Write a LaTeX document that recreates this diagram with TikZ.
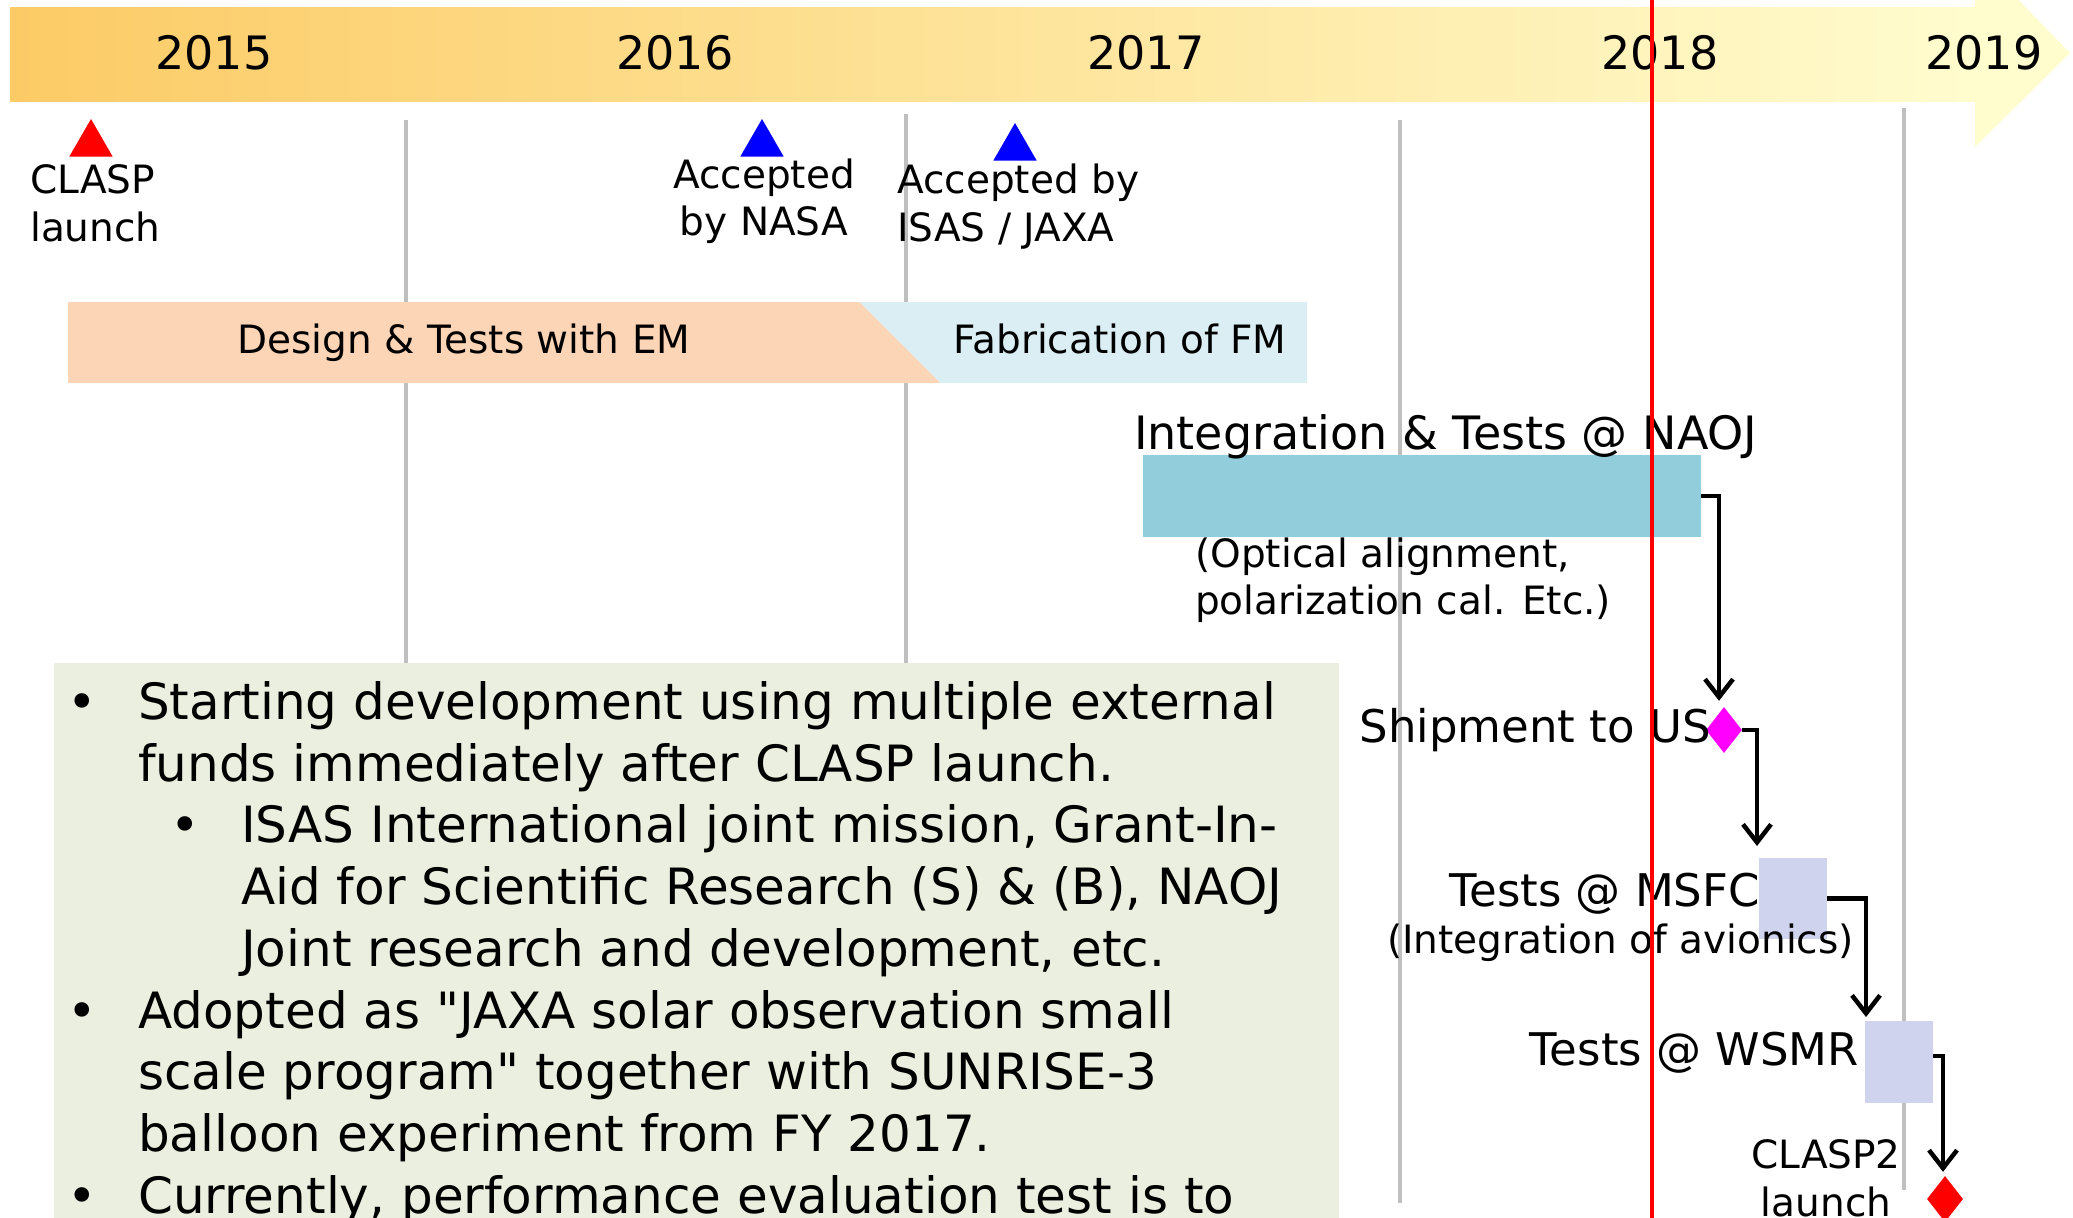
\documentclass[tikz,border=0pt]{standalone}
\usepackage{fontspec}
\setmainfont{DejaVu Sans}
\newfontfamily\qfont{DejaVu Sans}
\usetikzlibrary{shapes.geometric,arrows.meta}
\definecolor{bandL}{RGB}{252,203,102}
\definecolor{bandM}{RGB}{254,237,178}
\definecolor{bandR}{RGB}{255,252,206}
\definecolor{peach}{RGB}{251,213,181}
\definecolor{paleblue}{RGB}{219,238,244}
\definecolor{naojblue}{RGB}{146,205,220}
\definecolor{lav}{RGB}{208,211,238}
\definecolor{sage}{RGB}{235,239,223}
\definecolor{gridgray}{RGB}{191,191,191}
\definecolor{brightmag}{RGB}{255,0,255}
\definecolor{brightred}{RGB}{255,0,0}
\definecolor{brightblue}{RGB}{0,0,255}
\tikzset{
 yearlbl/.style={font=\fontsize{46}{55}\selectfont, anchor=base, inner sep=0},
 lbl/.style={font=\fontsize{39}{47}\selectfont, inner sep=0},
 bigl/.style={font=\fontsize{45}{54}\selectfont, inner sep=0},
 bul/.style={font=\fontsize{50}{60}\selectfont, inner sep=0, anchor=base west},
 bulletdot/.style={font=\fontsize{50}{60}\selectfont, inner sep=0, anchor=base},
 gridline/.style={draw=gridgray, line width=4.5pt},
 conn/.style={draw=black, line width=4.5pt, -{Straight Barb[length=18pt,width=28pt]}},
 tri/.style={regular polygon, regular polygon sides=3, minimum size=50pt, inner sep=0},
 dia/.style={diamond, minimum width=36pt, minimum height=46pt, inner sep=0},
 boxn/.style={anchor=north west, inner sep=0, draw=none}
}
\begin{document}
\begin{tikzpicture}[x=1pt,y=-1pt]
\useasboundingbox (0,0) rectangle (2073,1218);
\clip (0,0) rectangle (2073,1218);
% timeline arrow
\shade[left color=bandL, middle color=bandM, right color=bandR] (10,7) rectangle (1976,101);
\fill[bandR] (1975,-45) -- (2070,53) -- (1975,147) -- cycle;
\node[yearlbl] (y2015) at (214,69) {2015};
\node[yearlbl] (y2016) at (675,69) {2016};
\node[yearlbl] (y2017) at (1146,69) {2017};
\node[yearlbl] (y2018) at (1660,69) {2018};
\node[yearlbl] (y2019) at (1984,69) {2019};
% grid lines
\draw[gridline] (406,120) -- (406,700);
\draw[gridline] (906,114) -- (906,700);
\draw[gridline] (1400,120) -- (1400,1203);
\draw[gridline] (1904,108) -- (1904,1190);
% milestones
\node[tri, fill=brightred] (clasp) at (91,144) {};
\node[tri, fill=brightblue] (nasa) at (762,144) {};
\node[tri, fill=brightblue] (isas) at (1015,148) {};
\node[lbl, anchor=base west] (claspA) at (30,193) {CLASP};
\node[lbl, anchor=base west] (claspB) at (30,241) {launch};
\node[lbl, anchor=base] (nasaA) at (764,188) {Accepted};
\node[lbl, anchor=base] (nasaB) at (764,235) {by NASA};
\node[lbl, anchor=base west] (isasA) at (897,193) {Accepted by};
\node[lbl, anchor=base west] (isasB) at (897,241) {ISAS / JAXA};
% phase bands
\fill[paleblue] (859,302) -- (1307,302) -- (1307,383) -- (940,383) -- cycle;
\fill[peach] (68,302) -- (859,302) -- (940,383) -- (68,383) -- cycle;
\node[lbl, anchor=base] (design) at (464,353) {Design \& Tests with EM};
\node[lbl, anchor=base] (fab) at (1120,353) {Fabrication of FM};
% integration
\node[boxn, fill=naojblue, minimum width=558pt, minimum height=82pt] (naoj) at (1143,455) {};
\node[bigl, anchor=base west, font=\fontsize{46}{55}\selectfont] (naojT) at (1134,449) {Integration \& Tests @ NAOJ};
\node[lbl, anchor=base west] (optA) at (1195,567) {(Optical alignment,};
\node[lbl, anchor=base west] (optB) at (1195,614) {polarization cal. Etc.)};
% shipment
\node[dia, fill=brightmag] (ship) at (1724,730) {};
\node[bigl, anchor=base east] (shipT) at (1711,742) {Shipment to US};
% MSFC
\node[boxn, fill=lav, minimum width=68pt, minimum height=81pt] (msfc) at (1759,858) {};
\node[bigl, anchor=base east] (msfcT) at (1760,906) {Tests @ MSFC};
\node[lbl, anchor=base west] (msfcS) at (1387,953) {(Integration of avionics)};
% WSMR
\node[boxn, fill=lav, minimum width=68pt, minimum height=82pt] (wsmr) at (1865,1021) {};
\node[bigl, anchor=base east] (wsmrT) at (1859,1065) {Tests @ WSMR};
% CLASP2 launch
\node[dia, fill=brightred] (launch) at (1945,1199) {};
\node[lbl, anchor=base] (c2A) at (1826,1168) {CLASP2};
\node[lbl, anchor=base] (c2B) at (1826,1216) {launch};
% connectors
\draw[conn, shorten >=6pt] (naoj.east) -| ([xshift=-5pt]ship.north);
\draw[conn, shorten >=12pt] (ship.east) -| ([xshift=-2pt]msfc.north west);
\draw[conn, shorten >=4pt] (msfc.east) -| ([xshift=1pt]wsmr.north west);
\draw[conn, shorten >=4pt] ([yshift=6pt]wsmr.east) -| ([xshift=-2pt]launch.north);
% notes box
\node[boxn, fill=sage, minimum width=1285pt, minimum height=600pt] (notes) at (54,663) {};
\node[bulletdot] (d1) at (82,719) {•};
\node[bul] (l1) at (138,719) {Starting development using multiple external};
\node[bul] (l2) at (138,781) {funds immediately after CLASP launch.};
\node[bulletdot] (d2) at (185,842) {•};
\node[bul] (l3) at (241,842) {ISAS International joint mission, Grant-In-};
\node[bul] (l4) at (241,904) {Aid for Scientific Research (S) \& (B), NAOJ};
\node[bul] (l5) at (241,966) {Joint research and development, etc.};
\node[bulletdot] (d3) at (82,1028) {•};
\node[bul] (l6) at (138,1028) {Adopted as {\qfont"}JAXA solar observation small};
\node[bul] (l7) at (138,1089) {scale program{\qfont"} together with SUNRISE-3};
\node[bul] (l8) at (138,1151) {balloon experiment from FY 2017.};
\node[bulletdot] (d4) at (82,1213) {•};
\node[bul] (l9) at (138,1213) {Currently, performance evaluation test is to};
% today line
\draw[brightred, line width=3.5pt] (1652,0) -- (1652,1218);
\end{tikzpicture}
\end{document}
